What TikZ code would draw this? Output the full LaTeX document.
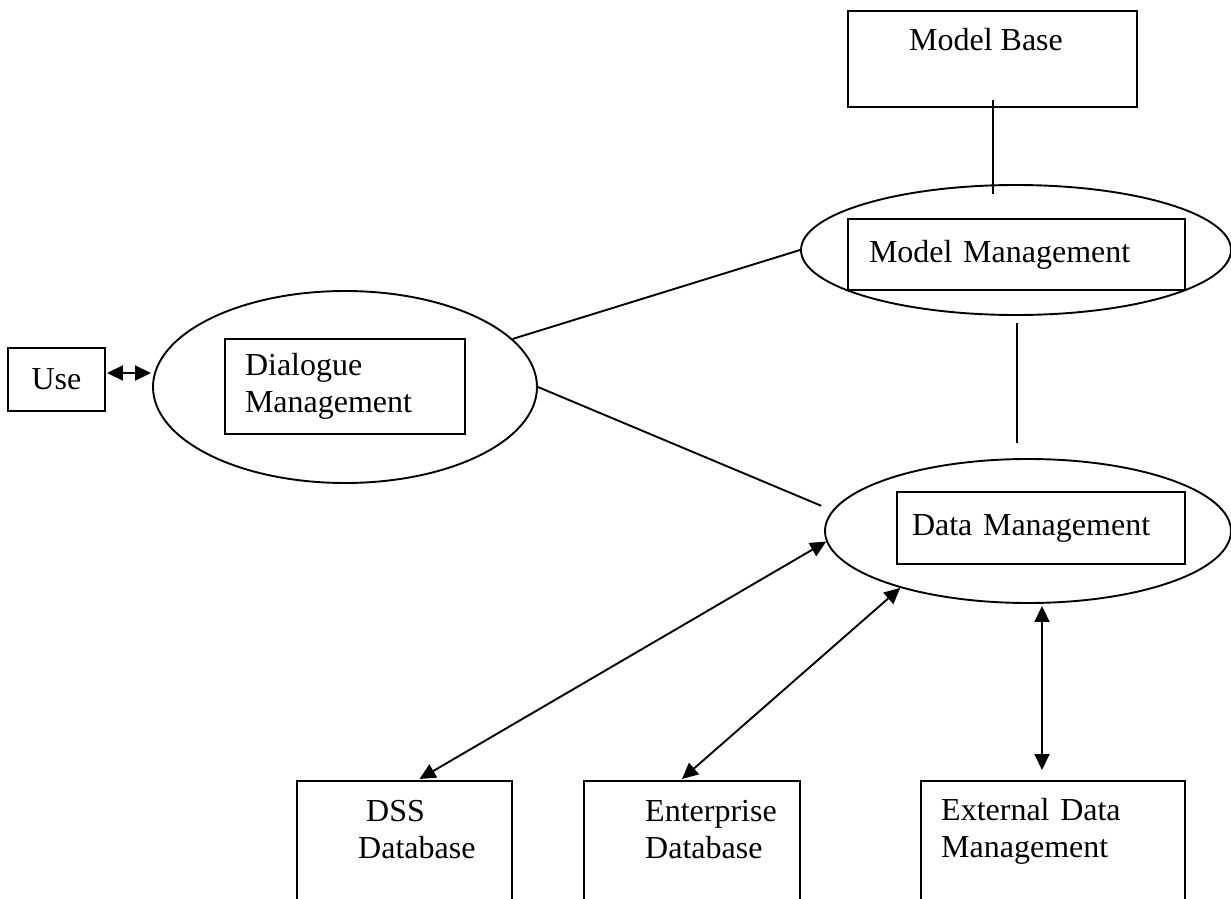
\documentclass[tikz,border=0pt]{standalone}
\usepackage{fontspec}
\setmainfont{Liberation Serif}
\usetikzlibrary{shapes.geometric,arrows.meta,calc}
\begin{document}
\begin{tikzpicture}[x=1pt,y=-1pt,
  lw/.style={line width=1.9pt},
  txtfont/.style={font=\fontsize{32}{37.5}\selectfont},
  boxnode/.style={draw,lw,rectangle,inner sep=0pt,txtfont},
  ellnode/.style={draw,lw,ellipse,inner sep=0pt},
  link/.style={lw},
  dbl/.style={lw,{Triangle[length=16pt,width=15pt]}-{Triangle[length=16pt,width=15pt]}},
  lbl/.style={txtfont,inner sep=0pt,anchor=base west,text width=240pt,align=left}]
\useasboundingbox (0,0) rectangle (1231,899);
\fill[white] (0,0) rectangle (1231,899);
\clip (0,0) rectangle (1231,899);

% ellipses
\node[ellnode,minimum width=384pt,minimum height=192pt] (dlg) at (345,387) {};
\node[ellnode,minimum width=430pt,minimum height=130pt] (mm) at (1016,250) {};
\node[ellnode,minimum width=406pt,minimum height=144pt] (dm) at (1028,531) {};

% boxes
\node[boxnode,minimum width=97pt,minimum height=63pt] (use) at (56.5,379.5) {Use};
\node[boxnode,text width=200pt,inner xsep=20pt,align=left,minimum height=95pt] (dlgbox) at (345,386.5) {Dialogue\\Management};
\node[boxnode,minimum width=289pt,text height=40pt,text depth=56pt,anchor=north] (mb) at (992.5,10) {Model Base\hspace*{13pt}};
\node[boxnode,text width=295pt,inner xsep=21pt,align=left,minimum height=71pt] (mmbox) at (1016.5,254.5) {Model Management};
\node[boxnode,text width=258pt,inner xsep=15pt,align=left,minimum height=72pt] (dmbox) at (1041,528) {Data Management};

% bottom boxes (open at the bottom edge)
\node[boxnode,minimum width=215pt,minimum height=140pt,anchor=north] (dss) at (404.5,780) {};
\node[boxnode,minimum width=216pt,minimum height=140pt,anchor=north] (ent) at (692,780) {};
\node[boxnode,minimum width=264pt,minimum height=140pt,anchor=north] (ext) at (1053,780) {};
\node[lbl] (dsst) at (358,821) {\hspace*{8pt}DSS\\Database};
\node[lbl] (entt) at (645,821) {Enterprise\\Database};
\node[lbl] (extt) at (941,820) {External Data\\Management};

% connectors
\draw[link] ($(mb.south)+(0.5,-8)$) -- ($(mb.south |- mm.north)+(0.5,10)$);
\draw[link] ($(mm.south)+(1,7)$) -- ($(mm.south |- dm.north)+(1,-15)$);
\draw[link] (dlg.16) -- (mm.west);
\draw[link,shorten >=12pt] (dlg.east) -- (dm.174);
\draw[dbl] ($(use.east)+(1,-6.5)$) -- ($(use.east -| dlg.west)+(-1,-6.5)$);
\draw[dbl] (dm.183) -- ($(dss.north)+(15,-1)$);
\draw[dbl] (dm.204) -- ($(ent.north)+(-10,-1)$);
\draw[dbl] ($(ext.north |- dm.south)+(-11,2)$) -- ($(ext.north)+(-11,-10)$);
\end{tikzpicture}
\end{document}
